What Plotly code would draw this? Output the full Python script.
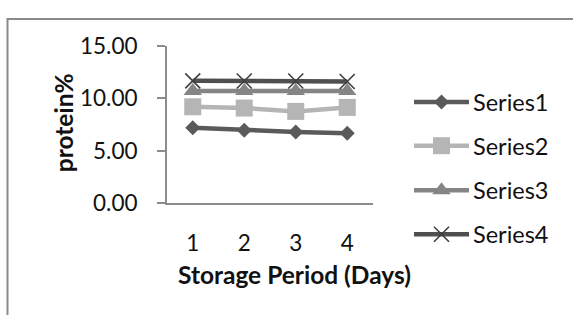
import plotly.graph_objects as go

# Storage period (days) and protein % for each series
days = [1, 2, 3, 4]
series_names = ["Series1", "Series2", "Series3", "Series4"]
series1 = [7.20, 6.95, 6.80, 6.68]
series2 = [9.20, 9.08, 8.76, 9.14]
series3 = [10.72, 10.72, 10.72, 10.72]
series4 = [11.68, 11.66, 11.66, 11.62]
y_ticks = [0, 5, 10, 15]

W, H = 573, 328
FONT = "Lato"

styles = [
    dict(color="#5a5a5a", symbol="diamond", size=11.5, mline=None),
    dict(color="#b5b5b5", symbol="square", size=17, mline=None),
    dict(color="#858585", symbol="triangle-up", size=16, mline=None),
    dict(color="#4f4f4f", symbol="x-thin", size=15, mline="#3f3f3f"),
]
values = [series1, series2, series3, series4]

# plot area in pixels
PX0, PX1 = 167, 373
PY0, PY1 = 35, 206

fig = go.Figure()

for name, vals, st in zip(series_names, values, styles):
    marker = dict(symbol=st["symbol"], size=st["size"], color=st["color"])
    if st["mline"]:
        marker["line"] = dict(color=st["mline"], width=1.6)
    fig.add_trace(go.Scatter(
        x=days, y=vals, name=name, mode="lines+markers",
        line=dict(color=st["color"], width=4.5),
        marker=marker, showlegend=False, xaxis="x", yaxis="y",
        cliponaxis=False,
    ))

# legend keys drawn on a pixel-space overlay axis
legend_rows = [96, 143.5, 192, 240]
for name, st, ry in zip(series_names, styles, legend_rows):
    marker = dict(symbol=st["symbol"], size=st["size"], color=st["color"])
    if st["mline"]:
        marker["line"] = dict(color=st["mline"], width=1.6)
    fig.add_trace(go.Scatter(
        x=[414, 441.5, 469], y=[ry, ry, ry], mode="lines",
        line=dict(color=st["color"], width=4.5),
        showlegend=False, hoverinfo="skip", xaxis="x2", yaxis="y2",
    ))
    fig.add_trace(go.Scatter(
        x=[441.5], y=[ry], mode="markers", marker=marker,
        showlegend=False, hoverinfo="skip", xaxis="x2", yaxis="y2",
    ))
    fig.add_annotation(
        x=471, y=ry, xref="x2", yref="y2", text=name, showarrow=False,
        xanchor="left", yanchor="middle",
        font=dict(family=FONT, size=23.5, color="#111111"),
    )

# axis titles
fig.add_annotation(
    x=294.5, y=284, xref="x2", yref="y2", text="<b>Storage Period (Days)</b>",
    showarrow=False, xanchor="center", yanchor="middle",
    font=dict(family=FONT, size=24.5, color="#111111"),
)
fig.add_annotation(
    x=63, y=119, xref="x2", yref="y2", text="<b>protein%</b>", textangle=-90,
    showarrow=False, xanchor="center", yanchor="middle",
    font=dict(family=FONT, size=24.5, color="#111111"),
)

# chart border
fig.add_shape(
    type="rect", xref="x2", yref="y2", x0=7.5, y0=5.5, x1=W + 5, y1=H + 5,
    line=dict(color="#8a8a8a", width=2), fillcolor="rgba(0,0,0,0)",
)

fig.update_layout(
    width=W, height=H,
    margin=dict(l=0, r=0, t=0, b=0),
    paper_bgcolor="white", plot_bgcolor="rgba(0,0,0,0)",
    showlegend=False,
    xaxis=dict(
        domain=[PX0 / W, PX1 / W], anchor="y",
        range=[0.5, 4.5], tickvals=days, ticktext=[str(d) for d in days],
        showgrid=False, zeroline=False, showline=True,
        linecolor="#8c8c8c", linewidth=2, ticks="",
        ticklabelstandoff=19,
        tickfont=dict(family=FONT, size=22.5, color="#111111"),
    ),
    yaxis=dict(
        domain=[(H - PY1) / H, (H - PY0) / H], anchor="x",
        range=[0, 15], tickvals=y_ticks, tickformat=".2f",
        showgrid=False, zeroline=False, showline=True,
        linecolor="#8c8c8c", linewidth=2,
        ticks="outside", ticklen=8, tickcolor="#8c8c8c", tickwidth=2,
        ticklabelstandoff=15,
        tickfont=dict(family=FONT, size=22.5, color="#111111"),
    ),
    xaxis2=dict(domain=[0, 1], anchor="y2", range=[0, W], visible=False, fixedrange=True),
    yaxis2=dict(domain=[0, 1], anchor="x2", range=[H, 0], visible=False, fixedrange=True),
)

fig.write_html("out.html")
